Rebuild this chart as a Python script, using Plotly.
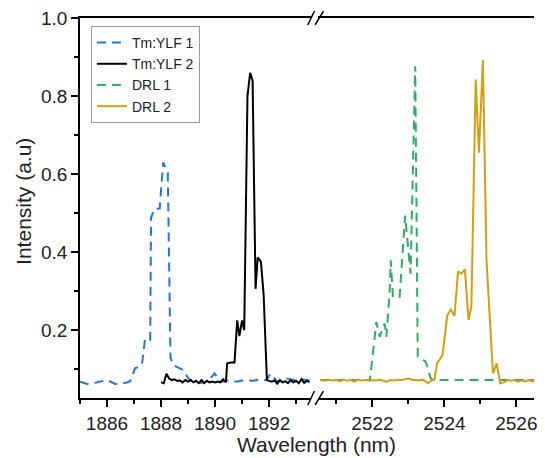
import plotly.graph_objects as go

# ---------------- data ----------------
tm1_x = [1885.0, 1885.25, 1885.6, 1886.0, 1886.3, 1886.7, 1886.86, 1887.04, 1887.29, 1887.36, 1887.41,
         1887.6, 1887.63, 1887.75, 1887.95, 1888.08, 1888.25, 1888.35, 1888.45, 1888.82, 1889.0,
         1889.25, 1889.5, 1889.75, 1889.98, 1890.2, 1890.5, 1890.8, 1891.1, 1891.4, 1891.7,
         1891.9, 1892.05, 1892.3, 1892.6, 1892.9, 1893.2, 1893.5]
tm1_y = [0.068, 0.062, 0.066, 0.072, 0.062, 0.065, 0.069, 0.102, 0.110, 0.154, 0.179,
         0.175, 0.488, 0.511, 0.512, 0.630, 0.604, 0.130, 0.110, 0.098, 0.077,
         0.064, 0.065, 0.070, 0.089, 0.068, 0.071, 0.068, 0.072, 0.070, 0.074,
         0.072, 0.088, 0.068, 0.077, 0.072, 0.074, 0.071]

tm2_x = [1888.0, 1888.1, 1888.2, 1888.3, 1888.4, 1888.5, 1888.6, 1888.7, 1888.8, 1888.9, 1889.0,
         1889.1, 1889.2, 1889.3, 1889.4, 1889.5, 1889.6, 1889.7, 1889.8, 1889.9, 1890.0, 1890.1,
         1890.2, 1890.3, 1890.4, 1890.45, 1890.6, 1890.72, 1890.82, 1890.9, 1891.0, 1891.08,
         1891.2, 1891.3, 1891.39, 1891.5, 1891.58, 1891.7, 1891.8, 1891.92, 1892.0, 1892.1,
         1892.2, 1892.3, 1892.4, 1892.5, 1892.6, 1892.7, 1892.8, 1892.9, 1893.0, 1893.1,
         1893.2, 1893.3, 1893.4, 1893.5]
tm2_y = [0.066, 0.064, 0.088, 0.076, 0.072, 0.074, 0.070, 0.071, 0.066, 0.072, 0.068,
         0.072, 0.066, 0.070, 0.064, 0.072, 0.064, 0.070, 0.066, 0.068, 0.066, 0.068,
         0.066, 0.074, 0.066, 0.115, 0.117, 0.117, 0.225, 0.185, 0.225, 0.200,
         0.800, 0.860, 0.840, 0.306, 0.387, 0.375, 0.290, 0.072, 0.070, 0.068,
         0.071, 0.063, 0.072, 0.066, 0.069, 0.064, 0.072, 0.066, 0.070, 0.064,
         0.074, 0.065, 0.070, 0.067]

drl1_x = [2520.55, 2521.93, 2522.11, 2522.2, 2522.34, 2522.39, 2522.48, 2522.51, 2522.57, 2522.755,
          2522.91, 2523.06, 2523.19, 2523.26, 2523.48, 2523.62, 2523.7, 2526.7]
drl1_y = [0.072, 0.072, 0.221, 0.183, 0.217, 0.183, 0.302, 0.379, 0.285, 0.285,
          0.494, 0.345, 0.877, 0.132, 0.119, 0.076, 0.072, 0.072]

drl2_x = [2520.55, 2520.7, 2520.8, 2520.9, 2521.0, 2521.1, 2521.2, 2521.3, 2521.4, 2521.5, 2521.6,
          2521.7, 2521.8, 2521.9, 2522.0, 2522.1, 2522.2, 2522.3, 2522.4, 2522.5, 2522.6, 2522.7,
          2522.8, 2522.9, 2523.0, 2523.1, 2523.2, 2523.3, 2523.4, 2523.5, 2523.55, 2523.65,
          2523.72, 2523.8, 2523.95, 2524.08, 2524.18, 2524.28, 2524.38, 2524.47, 2524.57, 2524.67,
          2524.75, 2524.87, 2524.96, 2525.07, 2525.17, 2525.35, 2525.45, 2525.55, 2525.65, 2525.75,
          2525.85, 2525.95, 2526.05, 2526.15, 2526.25, 2526.35, 2526.45, 2526.55, 2526.7]
drl2_y = [0.072, 0.070, 0.073, 0.071, 0.072, 0.069, 0.073, 0.070, 0.072, 0.068, 0.073,
          0.071, 0.072, 0.070, 0.072, 0.071, 0.073, 0.070, 0.068, 0.072, 0.071, 0.073,
          0.072, 0.074, 0.076, 0.073, 0.072, 0.071, 0.073, 0.066, 0.064, 0.072,
          0.072, 0.115, 0.136, 0.238, 0.253, 0.236, 0.351, 0.345, 0.356, 0.226,
          0.260, 0.843, 0.655, 0.892, 0.380, 0.089, 0.115, 0.064, 0.066, 0.072,
          0.070, 0.072, 0.068, 0.071, 0.069, 0.072, 0.068, 0.072, 0.071]

left_range = [1885.0, 1893.57]
right_range = [2520.50, 2526.49]
y_range = [0.026, 1.0005]
y_ticks = [0.2, 0.4, 0.6, 0.8, 1.0]
y_ticklabels = ["0.2", "0.4", "0.6", "0.8", "1.0"]
names = ["Tm:YLF 1", "Tm:YLF 2", "DRL 1", "DRL 2"]
colors = ["#2176E2", "#000000", "#2BAE66", "#D4A010"]

FONT = "Liberation Sans, Arial, sans-serif"

fig = go.Figure()
fig.add_trace(go.Scatter(x=tm1_x, y=tm1_y, mode="lines", name=names[0], xaxis="x", yaxis="y",
                         line=dict(color=colors[0], width=2, dash="9px,6px")))
fig.add_trace(go.Scatter(x=tm2_x, y=tm2_y, mode="lines", name=names[1], xaxis="x", yaxis="y",
                         line=dict(color=colors[1], width=2)))
fig.add_trace(go.Scatter(x=drl1_x, y=drl1_y, mode="lines", name=names[2], xaxis="x2", yaxis="y",
                         line=dict(color=colors[2], width=2, dash="9px,6px")))
fig.add_trace(go.Scatter(x=drl2_x, y=drl2_y, mode="lines", name=names[3], xaxis="x2", yaxis="y",
                         line=dict(color=colors[3], width=2)))

# layout geometry: page body has an 8px margin, so the figure is offset by 8px
OFF = 8
W, H = 545 - 2 * OFF, 458 - OFF
L, R, T = 80 - OFF, 0, 17 - OFF
B = H - (398 - OFF)
PW, PH = W - L - R, H - T - B
def px(xw):          # window x pixel -> paper fraction
    return (xw - OFF - L) / PW
def py(yw):          # window y pixel -> paper fraction
    return (H - B - (yw - OFF)) / PH

axis_common = dict(showline=True, linecolor="black", linewidth=1.6, mirror=True,
                   ticks="outside", ticklen=7, tickwidth=1.5, tickcolor="black",
                   showgrid=False, zeroline=False, ticklabeloverflow="allow",
                   tickfont=dict(family=FONT, size=19, color="#222"))

fig.update_layout(
    width=W, height=H,
    margin=dict(l=L, r=R, t=T, b=B),
    paper_bgcolor="white", plot_bgcolor="white",
    font=dict(family=FONT, color="#222"),
    showlegend=True,
    xaxis=dict(domain=[0, px(313)], range=left_range, tickmode="linear", tick0=1886, dtick=2,
               minor=dict(ticks="outside", ticklen=4, tickwidth=1.5, tickcolor="black", dtick=1, tick0=1885),
               anchor="y", **axis_common),
    xaxis2=dict(domain=[px(320), 1], range=right_range, tickmode="linear", tick0=2522, dtick=2,
                minor=dict(ticks="outside", ticklen=4, tickwidth=1.5, tickcolor="black", dtick=1, tick0=2521),
                anchor="y", **axis_common),
    yaxis=dict(range=y_range, tickmode="array", tickvals=y_ticks, ticktext=y_ticklabels,
               showline=True, linecolor="black", linewidth=1.6, mirror=False,
               ticks="outside", ticklen=7, tickwidth=1.5, tickcolor="black",
               minor=dict(ticks="outside", ticklen=4, tickwidth=1.5, tickcolor="black",
                          tickvals=[0.1, 0.3, 0.5, 0.7, 0.9]),
               showgrid=False, zeroline=False, ticklabeloverflow="allow",
               tickfont=dict(family=FONT, size=19, color="#222")),
    legend=dict(x=px(91), y=py(25), xanchor="left", yanchor="top",
                bgcolor="white", bordercolor="#999999", borderwidth=1,
                font=dict(family=FONT, size=14, color="#222"), tracegroupgap=0),
)

# axis titles
fig.add_annotation(text="Wavelength (nm)", xref="paper", yref="paper", x=px(318), y=py(445),
                   showarrow=False, xanchor="center", yanchor="middle",
                   font=dict(family=FONT, size=21, color="#222"))
fig.add_annotation(text="Intensity (a.u)", xref="paper", yref="paper", x=px(23), y=py(201),
                   showarrow=False, xanchor="center", yanchor="middle", textangle=-90,
                   font=dict(family=FONT, size=21, color="#222"))

# break marks on bottom and top axis lines
for yc in (398, 17):
    for (x0, x1) in ((309.3, 316.0), (316.7, 325.0)):
        fig.add_shape(type="line", xref="paper", yref="paper",
                      x0=px(x0), y0=py(yc + 7), x1=px(x1), y1=py(yc - 7),
                      line=dict(color="black", width=1.5))

fig.write_html("out.html")
